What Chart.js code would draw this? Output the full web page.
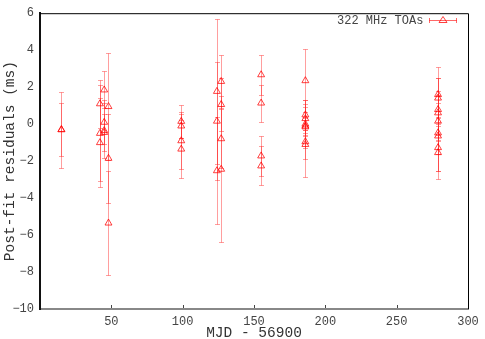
<!DOCTYPE html>
<html>
<head>
<meta charset="utf-8">
<script src="https://cdn.jsdelivr.net/npm/chart.js@4.4.0/dist/chart.umd.min.js"></script>
<style>
  html, body { margin: 0; padding: 0; background: #fff; }
  canvas { display: block; }
</style>
</head>
<body>
<canvas id="toaChart" width="485" height="339"></canvas>
<script>
'use strict'

// MJD - 56900 for each TOA
const mjd = [
    15, 15,
    42, 42, 42,
    45, 45, 45, 45,
    48, 48, 48,
    99, 99, 99, 99,
    124, 124, 124,
    127, 127, 127, 127,
    155, 155, 155, 155,
    186, 186, 186, 186, 186, 186, 186, 186,
    279, 279, 279, 279, 279, 279, 279, 279, 279
];
// post-fit residuals (ms)
const residuals = [
    -0.3, -0.3,
    1.1, -0.5, -1.0,
    1.85, 0.1, -0.35, -0.45,
    0.95, -1.85, -5.35,
    0.15, -0.1, -0.9, -1.35,
    1.77, 0.16, -2.52,
    2.31, 1.06, -0.79, -2.44,
    2.67, 1.14, -1.72, -2.26,
    2.35, 0.5, 0.3, 0.0, -0.1, -0.15, -0.95, -1.1,
    1.6, 1.41, 0.79, 0.61, 0.16, -0.47, -0.64, -1.27, -1.54
];
// 1-sigma uncertainties (ms)
const errors = [
    2.05, 1.45,
    1.3, 2.6, 2.4,
    1.0, 1.2, 1.5, 1.0,
    2.9, 2.4, 2.8,
    0.9, 0.65, 1.55, 1.55,
    3.9, 3.2, 2.9,
    1.45, 1.45, 1.6, 3.95,
    1.08, 1.0, 1.1, 1.05,
    1.7, 0.8, 0.8, 1.3, 0.5, 0.5, 1.9, 0.8,
    1.5, 1.1, 1.7, 1.2, 1.0, 2.05, 1.0, 1.25, 1.45
];
const seriesLabel = '322 MHz TOAs';
const xTicks = [0, 50, 100, 150, 200, 250, 300];
const yTicks = [-10, -8, -6, -4, -2, 0, 2, 4, 6];

const markColor = 'rgba(255, 0, 0, 0.75)';
const barColor = 'rgba(255, 40, 40, 0.45)';
const monoFont = '"Liberation Mono", "DejaVu Sans Mono", monospace';

const points = mjd.map((x, i) => ({ x: x, y: residuals[i] }));

function drawErrorBar(ctx, x, yTop, yBottom) {
    ctx.beginPath();
    ctx.moveTo(x, yTop);
    ctx.lineTo(x, yBottom);
    ctx.moveTo(x - 2.5, yTop);
    ctx.lineTo(x + 2.5, yTop);
    ctx.moveTo(x - 2.5, yBottom);
    ctx.lineTo(x + 2.5, yBottom);
    ctx.stroke();
}

const errorBarPlugin = {
    id: 'errorBars',
    beforeDatasetsDraw(chart) {
        const ctx = chart.ctx;
        const xs = chart.scales.x;
        const ys = chart.scales.y;
        ctx.save();
        ctx.strokeStyle = barColor;
        ctx.lineWidth = 1;
        points.forEach((p, i) => {
            const px = Math.round(xs.getPixelForValue(p.x)) + 0.5;
            const top = Math.round(ys.getPixelForValue(p.y + errors[i])) + 0.5;
            const bottom = Math.round(ys.getPixelForValue(p.y - errors[i])) + 0.5;
            drawErrorBar(ctx, px, top, bottom);
        });
        ctx.restore();
    },
    afterDraw(chart) {
        const ctx = chart.ctx;
        const a = chart.chartArea;
        const xs = chart.scales.x;
        ctx.save();
        // frame top and right
        ctx.strokeStyle = '#000';
        ctx.lineWidth = 1;
        ctx.beginPath();
        ctx.moveTo(a.left, a.top + 0.5);
        ctx.lineTo(a.right + 0.5, a.top + 0.5);
        ctx.lineTo(a.right + 0.5, a.bottom);
        ctx.stroke();
        // small inward ticks on x axis
        ctx.strokeStyle = '#444';
        xTicks.forEach(v => {
            if (v === 0 || v === 300) return;
            const px = Math.round(xs.getPixelForValue(v)) + 0.5;
            ctx.beginPath();
            ctx.moveTo(px, a.bottom - 1);
            ctx.lineTo(px, a.bottom - 4);
            ctx.stroke();
        });
        // key, text first then the sample
        ctx.font = '12px ' + monoFont;
        ctx.fillStyle = '#444';
        ctx.textBaseline = 'middle';
        ctx.textAlign = 'left';
        ctx.fillText(seriesLabel, 337, 21);
        ctx.strokeStyle = 'rgba(255, 40, 40, 0.7)';
        ctx.beginPath();
        ctx.moveTo(429, 20.5);
        ctx.lineTo(457, 20.5);
        ctx.moveTo(429.5, 18);
        ctx.lineTo(429.5, 23);
        ctx.moveTo(456.5, 18);
        ctx.lineTo(456.5, 23);
        ctx.stroke();
        ctx.strokeStyle = markColor;
        ctx.beginPath();
        ctx.moveTo(443, 16.5);
        ctx.lineTo(447, 22.5);
        ctx.lineTo(439, 22.5);
        ctx.closePath();
        ctx.stroke();
        ctx.restore();
    }
};

function minusLabel(v) {
    return String(v).replace('-', '\u2212');
}

new Chart(document.getElementById('toaChart'), {
    type: 'scatter',
    data: {
        datasets: [{
            label: seriesLabel,
            data: points,
            pointStyle: 'triangle',
            pointRadius: 4,
            pointHoverRadius: 4,
            pointBorderWidth: 1,
            borderColor: markColor,
            backgroundColor: 'rgba(0,0,0,0)'
        }]
    },
    options: {
        responsive: false,
        animation: false,
        devicePixelRatio: 1,
        layout: { padding: { top: 11, right: 17, left: 0, bottom: 0 } },
        plugins: {
            legend: { display: false },
            tooltip: { enabled: false }
        },
        scales: {
            x: {
                type: 'linear',
                min: 0,
                max: 300,
                afterFit(scale) { scale.height = 30; },
                afterBuildTicks(scale) { scale.ticks = xTicks.map(v => ({ value: v })); },
                grid: { drawOnChartArea: false, drawTicks: false },
                border: { display: true, color: '#888', width: 2 },
                ticks: {
                    padding: 6,
                    color: '#444',
                    font: { family: monoFont, size: 12 },
                    callback: v => (v === 0 ? '' : minusLabel(v))
                },
                title: {
                    display: true,
                    text: 'MJD - 56900',
                    color: '#333',
                    padding: { top: 0, bottom: 0 },
                    font: { family: monoFont, size: 14.5, lineHeight: 0.8 }
                }
            },
            y: {
                type: 'linear',
                min: -10,
                max: 6,
                afterFit(scale) { scale.width = 40; },
                afterBuildTicks(scale) { scale.ticks = yTicks.map(v => ({ value: v })); },
                grid: { drawOnChartArea: false, drawTicks: false },
                border: { display: true, color: '#111', width: 2 },
                ticks: {
                    padding: 6,
                    color: '#444',
                    font: { family: monoFont, size: 12 },
                    callback: v => minusLabel(v)
                },
                title: {
                    display: true,
                    text: 'Post-fit residuals (ms)',
                    color: '#333',
                    padding: { top: 3, bottom: 0 },
                    font: { family: monoFont, size: 14.5, lineHeight: 1 }
                }
            }
        }
    },
    plugins: [errorBarPlugin]
});
</script>
</body>
</html>
